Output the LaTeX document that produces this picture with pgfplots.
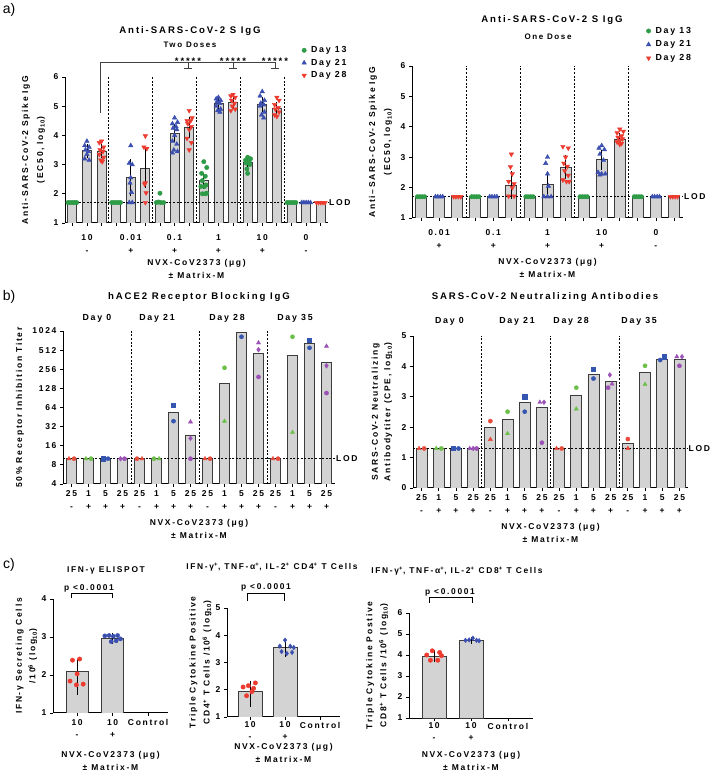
\documentclass[border=0pt]{standalone}
\usepackage{fontspec}
\setmainfont{Liberation Sans}[UprightFont={* Bold}, LetterSpace=20]
\newfontfamily\regfont{Liberation Sans}
\usepackage{pgfplots}
\pgfplotsset{compat=1.18}
\usetikzlibrary{plotmarks}
\definecolor{barfill}{HTML}{D3D3D3}
\definecolor{baredge}{HTML}{3C3C3C}
\definecolor{agreen}{HTML}{2E9B47}
\definecolor{ablue}{HTML}{3A4FB0}
\definecolor{ared}{HTML}{EE3B2F}
\definecolor{bred}{HTML}{E84B3C}
\definecolor{bgreen}{HTML}{6CC04A}
\definecolor{bblue}{HTML}{3556B0}
\definecolor{bpurple}{HTML}{9B51B5}
\newcommand{\fE}{\fontsize{8.5}{13}\selectfont}
\newcommand{\fD}{\fontsize{8.8}{10}\selectfont}
\newcommand{\fT}{\fontsize{9.6}{11}\selectfont}
\newcommand{\fC}{\fontsize{8.4}{10}\selectfont}
\tikzset{sepline/.style={black, line width=0.7pt, dash pattern=on 2pt off 1.6pt}}
\pgfplotsset{
 gp/.style={
  scale only axis, anchor=south west,
  axis x line*=bottom, axis y line*=left,
  axis line style={line width=1pt, black},
  every tick/.style={black, line width=0.8pt},
  tick align=outside, major tick length=3pt, minor tick length=3pt,
  /pgf/number format/assume math mode=true,
  tick label style={font=\fE},
  label style={font=\fE},
  xticklabel style={align=center, anchor=north},
  clip mode=individual,
 },
 barsty/.style={ybar, bar width=#1, fill=barfill, draw=baredge, line width=0.8pt, forget plot},
 errsty/.style={draw=none, mark=none, forget plot, error bars/.cd, y dir=both, y explicit,
   error bar style={draw=black, line width=0.8pt},
   error mark options={draw=black, line width=0.8pt, mark size=2.6pt}},
 pt/.style={only marks, mark size=#1},
 legend image code/.code={\draw[mark repeat=2,mark phase=2,#1] plot coordinates {(0pt,0pt)(5pt,0pt)(10pt,0pt)};},
}
\begin{document}
\begin{tikzpicture}
%================ a-left =================
\begin{axis}[gp, at={(65pt,550pt)}, width=263pt, height=146pt,
  xmin=-0.5, xmax=17.5, ymin=1, ymax=6, ytick={1,2,3,4,5,6},
  xtick={1,4,7,10,13,16}, xticklabels={{10\\-},{0.01\\+},{0.1\\+},{1\\+},{10\\+},{0\\-}},
  minor xtick={0,...,17}, xticklabel style={yshift=-5.5pt},
  xlabel={NVX-CoV2373 (μg)\\± Matrix-M}, xlabel style={align=center, at={(axis description cs:0.5,-0.315)}, anchor=center},
  ylabel={Anti-SARS-CoV-2 Spike IgG\\(EC50, log\textsubscript{10})}, ylabel style={align=center, font=\fontsize{8.5}{15}\selectfont, at={(axis description cs:-0.12,0.5)}, anchor=center},
  legend style={draw=none, fill=none, at={(0.9,1.222)}, anchor=north west, font=\fD, row sep=1.5pt, inner sep=0pt, nodes={inner sep=1.7pt}},
  legend cell align=left]
\addplot[barsty=9pt] coordinates {(0,1.7)(1,3.48)(2,3.45)(3,1.7)(4,2.55)(5,2.88)(6,1.75)(7,4.07)(8,4.27)(9,2.47)(10,5.1)(11,5.13)(12,3.07)(13,5.07)(14,4.92)(15,1.7)(16,1.7)(17,1.7)};
\pgfplotsinvokeforeach{2.5,5.5,8.5,11.5,14.5}{\draw[sepline] (axis cs:#1,1) -- (axis cs:#1,6);}
\draw[sepline] (axis cs:-0.5,1.7) -- (axis cs:17.5,1.7);
\node[anchor=west, font=\fE, inner sep=1pt] at (axis cs:17.5,1.7) {LOD};
\addplot[errsty] coordinates {(1,3.48) += (0,0.14) -= (0,0.16) (2,3.45) += (0,0.15) -= (0,0.15) (4,2.55) += (0,0.55) -= (0,0.55) (5,2.88) += (0,0.62) -= (0,0.58) (7,4.07) += (0,0.23) -= (0,0.22) (8,4.27) += (0,0.28) -= (0,0.27) (9,2.47) += (0,0.15) -= (0,0.22) (10,5.1) += (0,0.15) -= (0,0.15) (11,5.13) += (0,0.17) -= (0,0.15) (12,3.07) += (0,0.13) -= (0,0.12) (13,5.07) += (0,0.16) -= (0,0.17) (14,4.92) += (0,0.13) -= (0,0.12)};
\addplot[pt=2.2pt, mark=*, agreen] coordinates {(-0.3,1.7)(-0.15,1.7)(0,1.7)(0.15,1.7)(0.3,1.7)(2.7,1.7)(2.85,1.7)(3,1.7)(3.15,1.7)(3.3,1.7)(5.75,1.7)(5.9,1.72)(6.05,1.7)(6.25,1.7)(6,2.02)(9,3.1)(9.2,2.9)(8.85,2.7)(9.1,2.6)(8.9,2.45)(9.15,2.3)(8.8,2.25)(9.05,2.25)(8.9,2.0)(9.1,2.0)(9.2,2.02)(12,3.25)(12.2,3.2)(11.85,3.15)(12.1,3.1)(11.9,3.05)(12.15,3.0)(11.95,2.85)(12,2.7)(14.7,1.7)(14.85,1.7)(15,1.7)(15.15,1.7)(15.3,1.7)};
\addlegendentry{\hspace{3pt}Day 13}
\addplot[pt=2.6pt, mark=triangle*, ablue] coordinates {(1,3.8)(0.85,3.65)(1.15,3.6)(0.9,3.5)(1.1,3.45)(1,3.35)(0.85,3.2)(1.15,3.15)(4,3.65)(3.9,3.05)(4.1,3.0)(4,2.55)(3.95,2.37)(4.05,2.05)(3.9,1.7)(4.1,1.7)(7,4.6)(7.2,4.45)(6.85,4.4)(7.1,4.3)(6.9,4.25)(7.15,4.2)(7,4.0)(6.85,3.8)(7.15,3.7)(6.95,3.5)(7.2,3.45)(6.85,3.4)(10,5.3)(9.85,5.25)(10.15,5.2)(9.9,5.15)(10.1,5.1)(9.85,5.0)(10.15,4.9)(9.95,4.85)(10.1,4.8)(13,5.5)(12.85,5.35)(13.15,5.2)(12.9,5.1)(13.1,5.05)(12.85,5.0)(13.15,4.8)(12.95,4.7)(13.1,4.6)(15.7,1.7)(15.85,1.7)(16,1.7)(16.15,1.7)(16.3,1.7)};
\addlegendentry{\hspace{3pt}Day 21}
\addplot[pt=2.6pt, mark=triangle*, mark options={rotate=180}, ared] coordinates {(2,3.8)(1.85,3.75)(2.15,3.6)(1.9,3.5)(2.1,3.45)(1.85,3.35)(2.15,3.25)(1.95,3.15)(2.05,3.1)(5,3.98)(4.9,3.6)(5.1,3.55)(5,2.37)(4.95,2.33)(5.05,2.03)(5,1.7)(8,4.85)(8.2,4.6)(7.85,4.5)(8.1,4.5)(7.9,4.4)(8.15,4.3)(8,4.2)(7.85,3.9)(8.15,3.75)(8,3.5)(11,5.4)(10.85,5.35)(11.15,5.3)(10.9,5.2)(11.1,5.1)(10.95,5.0)(11.15,4.9)(10.85,4.85)(14,5.3)(14.15,5.2)(13.85,5.05)(14.1,4.95)(13.9,4.9)(14.15,4.8)(13.85,4.7)(14,4.65)(16.7,1.7)(16.85,1.7)(17,1.7)(17.15,1.7)(17.3,1.7)};
\addlegendentry{\hspace{3pt}Day 28}
\end{axis}
%================ a-right =================
\begin{axis}[gp, at={(412pt,555pt)}, width=271pt, height=152pt,
  xmin=-0.5, xmax=14.5, ymin=1, ymax=6, ytick={1,2,3,4,5,6},
  xtick={1,4,7,10,13}, xticklabels={{0.01\\+},{0.1\\+},{1\\+},{10\\+},{0\\-}},
  minor xtick={0,...,14}, xticklabel style={yshift=-5.5pt},
  xlabel={NVX-CoV2373 (μg)\\± Matrix-M}, xlabel style={align=center, at={(axis description cs:0.5,-0.332)}, anchor=center},
  ylabel={Anti--SARS-CoV-2 Spike IgG\\(EC50, log\textsubscript{10})}, ylabel style={align=center, font=\fontsize{8.5}{15}\selectfont, at={(axis description cs:-0.116,0.5)}, anchor=center},
  legend style={draw=none, fill=none, at={(0.864,1.268)}, anchor=north west, font=\fD, row sep=2.5pt, inner sep=0pt, nodes={inner sep=1.7pt}},
  legend cell align=left]
\addplot[barsty=11pt] coordinates {(0,1.7)(1,1.7)(2,1.7)(3,1.7)(4,1.7)(5,2.08)(6,1.7)(7,2.1)(8,2.68)(9,1.7)(10,2.92)(11,3.58)(12,1.7)(13,1.7)(14,1.7)};
\pgfplotsinvokeforeach{2.5,5.5,8.5,11.5}{\draw[sepline] (axis cs:#1,1) -- (axis cs:#1,6);}
\draw[sepline] (axis cs:-0.5,1.7) -- (axis cs:14.5,1.7);
\node[anchor=west, font=\fE, inner sep=1pt] at (axis cs:14.5,1.7) {LOD};
\addplot[errsty] coordinates {(5,2.08) += (0,0.37) -= (0,0.36) (7,2.1) += (0,0.32) -= (0,0.35) (8,2.68) += (0,0.32) -= (0,0.3) (10,2.92) += (0,0.23) -= (0,0.24) (11,3.58) += (0,0.12) -= (0,0.1)};
\addplot[pt=2.2pt, mark=*, agreen] coordinates {(-0.2,1.7)(-0.07,1.7)(0.07,1.7)(0.2,1.7)(2.8,1.7)(2.93,1.7)(3.07,1.7)(3.2,1.7)(5.8,1.7)(5.93,1.7)(6.07,1.7)(6.2,1.7)(8.8,1.7)(8.93,1.7)(9.07,1.7)(9.2,1.7)(11.8,1.7)(11.93,1.7)(12.07,1.7)(12.2,1.7)};
\addlegendentry{\hspace{3pt}Day 13}
\addplot[pt=2.6pt, mark=triangle*, ablue] coordinates {(0.8,1.7)(0.93,1.7)(1.07,1.7)(1.2,1.7)(3.8,1.7)(3.93,1.7)(4.07,1.7)(4.2,1.7)(7,3.0)(6.9,2.8)(7,2.45)(7.05,2.05)(6.8,1.7)(7,1.7)(7.2,1.7)(10,3.38)(9.85,3.3)(10.15,3.25)(9.9,3.1)(10.1,2.9)(9.8,2.5)(10,2.45)(10.2,2.45)(9.9,2.42)(12.8,1.7)(12.93,1.7)(13.07,1.7)(13.2,1.7)};
\addlegendentry{\hspace{3pt}Day 21}
\addplot[pt=2.6pt, mark=triangle*, mark options={rotate=180}, ared] coordinates {(1.8,1.7)(1.93,1.7)(2.07,1.7)(2.2,1.7)(5,3.1)(4.95,2.68)(5.05,2.45)(4.85,2.2)(5.15,2.12)(5.05,2.0)(4.85,1.72)(5.15,1.72)(7.85,3.35)(8.15,3.3)(8,3.0)(7.9,2.8)(8.1,2.7)(7.95,2.55)(8.15,2.4)(7.85,2.25)(8.05,2.2)(8.2,2.2)(11,3.92)(11.2,3.85)(10.85,3.8)(11.1,3.7)(10.9,3.65)(11.15,3.6)(11,3.55)(10.85,3.5)(11.1,3.45)(11,3.42)(13.8,1.7)(13.93,1.7)(14.07,1.7)(14.2,1.7)};
\addlegendentry{\hspace{3pt}Day 28}
\end{axis}
%================ b-left =================
\begin{axis}[gp, at={(63pt,289pt)}, width=272pt, height=153pt,
  ymode=log, log basis y=2, ymin=4, ymax=1024,
  ytick={4,8,16,32,64,128,256,512,1024}, yticklabels={4,8,16,32,64,128,256,512,1024},
  xmin=-0.5, xmax=15.5, xtick={0,...,15},
  xticklabels={{25\\-},{1\\+},{5\\+},{25\\+},{25\\-},{1\\+},{5\\+},{25\\+},{25\\-},{1\\+},{5\\+},{25\\+},{25\\-},{1\\+},{5\\+},{25\\+}},
  xticklabel style={yshift=-0.5pt},
  xlabel={NVX-CoV2373 (μg)\\± Matrix-M}, xlabel style={align=center, at={(axis description cs:0.5,-0.291)}, anchor=center},
  ylabel={50\% Receptor Inhibition Titer}, ylabel style={align=center, at={(axis description cs:-0.158,0.5)}, anchor=center}]
\addplot[barsty=10.5pt] coordinates {(0,10)(1,10)(2,10)(3,10)(4,10)(5,10)(6,54)(7,23)(8,10)(9,155)(10,965)(11,460)(12,10)(13,428)(14,650)(15,330)};
\pgfplotsinvokeforeach{3.5,7.5,11.5}{\draw[sepline] (axis cs:#1,4) -- (axis cs:#1,1024);}
\draw[sepline] (axis cs:-0.5,10) -- (axis cs:15.5,10);
\node[anchor=west, font=\fE, inner sep=1pt] at (axis cs:15.5,10) {LOD};
\node[font=\fD] at (axis cs:1.5,1024) [yshift=13pt] {Day 0};
\node[font=\fD] at (axis cs:5.03,1024) [yshift=13pt] {Day 21};
\node[font=\fD] at (axis cs:9.15,1024) [yshift=13pt] {Day 28};
\node[font=\fD] at (axis cs:13.15,1024) [yshift=13pt] {Day 35};
\addplot[pt=2.4pt, mark=triangle*, bred] coordinates {(-0.15,10)(4.15,10)(7.85,10)(11.85,10)};
\addplot[pt=2.1pt, mark=*, bred] coordinates {(0.15,10)(3.85,10)(8.15,10)(12.15,10)};
\addplot[pt=2.4pt, mark=triangle*, bgreen] coordinates {(0.85,10)(5.15,10)(9,39)(13,26)};
\addplot[pt=2.1pt, mark=*, bgreen] coordinates {(1.15,10)(4.85,10)(9,270)(13,830)};
\addplot[pt=2.1pt, mark=square*, bblue] coordinates {(1.85,10)(6,70)(10,1100)(14,744)};
\addplot[pt=2.1pt, mark=*, bblue] coordinates {(2.15,10)(6,39)(10,830)(14,556)};
\addplot[pt=2.4pt, mark=triangle*, bpurple] coordinates {(7,38)(11,667)(15,590)};
\addplot[pt=2.4pt, mark=diamond*, bpurple] coordinates {(2.88,10)(7,21)(11,520)(15,290)};
\addplot[pt=2.1pt, mark=*, bpurple] coordinates {(3.12,10)(7,10)(11,194)(15,108)};
\end{axis}
%================ b-right =================
\begin{axis}[gp, at={(413pt,285pt)}, width=275pt, height=152pt,
  ymin=0, ymax=5, ytick={0,1,2,3,4,5},
  xmin=-0.5, xmax=15.5, xtick={0,...,15},
  xticklabels={{25\\-},{1\\+},{5\\+},{25\\+},{25\\-},{1\\+},{5\\+},{25\\+},{25\\-},{1\\+},{5\\+},{25\\+},{25\\-},{1\\+},{5\\+},{25\\+}},
  xticklabel style={yshift=-0.5pt},
  xlabel={NVX-CoV2373 (μg)\\± Matrix-M}, xlabel style={align=center, at={(axis description cs:0.5,-0.299)}, anchor=center},
  ylabel={SARS-CoV-2 Neutralizing\\Antibodytiter (CPE, log\textsubscript{10})}, ylabel style={align=center, font=\fontsize{8.5}{12.5}\selectfont, at={(axis description cs:-0.113,0.5)}, anchor=center}]
\addplot[barsty=11pt] coordinates {(0,1.3)(1,1.3)(2,1.3)(3,1.3)(4,1.98)(5,2.26)(6,2.81)(7,2.64)(8,1.3)(9,3.06)(10,3.75)(11,3.5)(12,1.47)(13,3.8)(14,4.24)(15,4.22)};
\pgfplotsinvokeforeach{3.5,7.5,11.5}{\draw[sepline] (axis cs:#1,0) -- (axis cs:#1,5);}
\draw[sepline] (axis cs:-0.5,1.3) -- (axis cs:15.5,1.3);
\node[anchor=west, font=\fE, inner sep=0.5pt] at (axis cs:15.5,1.3) {LOD};
\node[font=\fD] at (axis cs:1.62,5) [yshift=15pt] {Day 0};
\node[font=\fD] at (axis cs:5.55,5) [yshift=15pt] {Day 21};
\node[font=\fD] at (axis cs:8.7,5) [yshift=15pt] {Day 28};
\node[font=\fD] at (axis cs:12.66,5) [yshift=15pt] {Day 35};
\addplot[pt=2.4pt, mark=triangle*, bred] coordinates {(-0.15,1.3)(4,1.6)(7.85,1.3)(12,1.3)};
\addplot[pt=2.1pt, mark=*, bred] coordinates {(0.15,1.3)(4,2.2)(8.15,1.3)(12,1.61)};
\addplot[pt=2.4pt, mark=triangle*, bgreen] coordinates {(0.85,1.3)(5,1.79)(9,2.6)(13,3.41)};
\addplot[pt=2.1pt, mark=*, bgreen] coordinates {(1.15,1.3)(5,2.51)(9,3.3)(13,4.02)};
\addplot[pt=2.1pt, mark=square*, bblue] coordinates {(1.85,1.3)(6,3.0)(10,3.9)(14.12,4.32)};
\addplot[pt=2.1pt, mark=*, bblue] coordinates {(2.15,1.3)(6,2.51)(10,3.6)(13.88,4.21)};
\addplot[pt=2.4pt, mark=triangle*, bpurple] coordinates {(2.8,1.3)(6.88,2.82)(11.08,3.42)(14.85,4.32)};
\addplot[pt=2.4pt, mark=diamond*, bpurple] coordinates {(3.0,1.3)(7.12,2.82)(10.95,3.72)(15.15,4.32)};
\addplot[pt=2.1pt, mark=*, bpurple] coordinates {(3.2,1.3)(7,1.49)(10.85,3.3)(15,4.02)};
\end{axis}
%================ c1 =================
\begin{axis}[gp, at={(53pt,60pt)}, width=115pt, height=114pt,
  xmin=-0.68, xmax=2.56, ymin=1, ymax=4, ytick={1,2,3,4},
  xtick={0,1,2}, xticklabels={{10\\-},{10\\+},{Control}}, xticklabel style={yshift=0pt, font=\fontsize{8.5}{12.5}\selectfont},
  xlabel={NVX-CoV2373 (μg)\\± Matrix-M}, xlabel style={align=center, at={(axis description cs:0.5,-0.417)}, anchor=center},
  ylabel={IFN-γ Secreting Cells\\/10\textsuperscript{6} (log\textsubscript{10})}, ylabel style={align=center, font=\fontsize{8.5}{13.5}\selectfont, at={(axis description cs:-0.23,0.5)}, anchor=center}]
\addplot[barsty=22pt] coordinates {(0,2.1)(1,2.97)};
\addplot[errsty] coordinates {(0,2.1) += (0,0.25) -= (0,0.55) (1,2.97) += (0,0.08) -= (0,0.08)};
\addplot[pt=2.2pt, mark=*, ared] coordinates {(-0.13,2.39)(0.07,2.42)(0,2.03)(-0.2,1.84)(-0.02,1.74)(0.17,1.76)};
\addplot[pt=2.1pt, mark=*, ablue] coordinates {(0.78,3.03)(0.9,3.04)(1.02,3.02)(1.14,3.04)(1.22,2.95)(0.96,2.88)(1.1,2.9)};
\end{axis}
%================ c2 =================
\begin{axis}[gp, at={(227pt,56pt)}, width=113pt, height=109pt,
  xmin=-0.66, xmax=2.57, ymin=1, ymax=5, ytick={1,2,3,4,5},
  xtick={0,1,2}, xticklabels={{10\\-},{10\\+},{Control}}, xticklabel style={yshift=1.5pt, font=\fontsize{8.5}{11.5}\selectfont},
  xlabel={NVX-CoV2373 (μg)\\± Matrix-M}, xlabel style={align=center, font=\fontsize{8.5}{12.5}\selectfont, at={(axis description cs:0.5,-0.33)}, anchor=center},
  ylabel={Triple Cytokine Positive\\CD4\textsuperscript{+} T Cells /10\textsuperscript{6} (log\textsubscript{10})}, ylabel style={align=center, font=\fontsize{8.5}{14}\selectfont, at={(axis description cs:-0.235,0.5)}, anchor=center}]
\addplot[barsty=24pt] coordinates {(0,1.95)(1,3.55)};
\addplot[errsty] coordinates {(0,1.95) += (0,0.27) -= (0,0.47) (1,3.55) += (0,0.18) -= (0,0.25)};
\addplot[pt=2.2pt, mark=*, ared] coordinates {(-0.2,2.1)(-0.05,2.15)(0.15,2.25)(0.05,1.93)(-0.1,1.78)(0.1,2.05)};
\addplot[pt=2.3pt, mark=diamond*, ablue] coordinates {(1,3.82)(0.85,3.6)(1.15,3.6)(1.25,3.55)(1.2,3.37)(1.05,3.33)(0.9,3.4)};
\end{axis}
%================ c3 =================
\begin{axis}[gp, at={(409pt,55pt)}, width=124pt, height=105pt,
  xmin=-0.68, xmax=2.68, ymin=1, ymax=6, ytick={1,2,3,4,5,6},
  xtick={0,1,2}, xticklabels={{10\\-},{10\\+},{Control}}, xticklabel style={yshift=1.5pt, font=\fontsize{8.5}{11.5}\selectfont},
  xlabel={NVX-CoV2373 (μg)\\± Matrix-M}, xlabel style={align=center, font=\fontsize{8.5}{12.5}\selectfont, at={(axis description cs:0.5,-0.41)}, anchor=center},
  ylabel={Triple Cytokine Postive\\CD8\textsuperscript{+} T Cells /10\textsuperscript{6} (log\textsubscript{10})}, ylabel style={align=center, font=\fontsize{8.5}{14}\selectfont, at={(axis description cs:-0.257,0.5)}, anchor=center}]
\addplot[barsty=24pt] coordinates {(0,3.95)(1,4.7)};
\addplot[errsty] coordinates {(0,3.95) += (0,0.18) -= (0,0.18) (1,4.7) += (0,0.05) -= (0,0.05)};
\addplot[pt=2.2pt, mark=*, ared] coordinates {(-0.05,4.2)(0.15,4.12)(-0.2,4.0)(0.2,3.97)(-0.1,3.75)(0.1,3.75)};
\addplot[pt=2.3pt, mark=diamond*, ablue] coordinates {(0.85,4.7)(0.95,4.72)(1.05,4.8)(1.15,4.7)(1.22,4.68)};
\end{axis}
%================ annotations =================
\node[font=\regfont\fontsize{14}{14}\selectfont] at (9pt,763pt) {a)};
\node[font=\regfont\fontsize{14}{14}\selectfont] at (9pt,476pt) {b)};
\node[font=\regfont\fontsize{14}{14}\selectfont] at (9pt,208pt) {c)};
\node[font=\fT] at (190pt,742pt) {Anti-SARS-CoV-2 S IgG};
\node[font=\fontsize{8}{9}\selectfont] at (190pt,728.5pt) {Two Doses};
\node[font=\fT] at (552pt,753pt) {Anti-SARS-CoV-2 S IgG};
\node[font=\fontsize{8}{9}\selectfont] at (548pt,736pt) {One Dose};
\node[font=\fT] at (199pt,476pt) {hACE2 Receptor Blocking IgG};
\node[font=\fT] at (545pt,476pt) {SARS-CoV-2 Neutralizing Antibodies};
\node[font=\fC] at (106pt,203pt) {IFN-γ ELISPOT};
\node[font=\fC] at (272pt,206pt) {IFN-γ\textsuperscript{+}, TNF-α\textsuperscript{+}, IL-2\textsuperscript{+} CD4\textsuperscript{+} T Cells};
\node[font=\fC] at (457pt,202pt) {IFN-γ\textsuperscript{+}, TNF-α\textsuperscript{+}, IL-2\textsuperscript{+} CD8\textsuperscript{+} T Cells};
% significance bracket (two doses)
\draw[line width=0.8pt, black!75] (100pt,660pt) -- (100pt,711pt) -- (275pt,711pt);
\foreach \xx in {188,233,275} {\draw[line width=0.8pt, black!75] (\xx pt,711pt) -- (\xx pt,705pt) (\xx pt-4pt,705pt) -- (\xx pt+4pt,705pt);}
\foreach \xx in {188,233,275} {\node[font=\fontsize{9.5}{9.5}\selectfont, anchor=base] at (\xx pt,708.5pt) {*****};}
% p-value brackets
\draw[line width=0.7pt] (71pt,175pt) -- (71pt,180pt) -- (112pt,180pt) -- (112pt,175pt);
\node[font=\fC, anchor=base] at (89pt,182.5pt) {p <0.0001};
\draw[line width=0.7pt] (247pt,172pt) -- (247pt,180pt) -- (284pt,180pt) -- (284pt,172pt);
\node[font=\fC, anchor=base] at (266pt,183pt) {p <0.0001};
\draw[line width=0.7pt] (429pt,170pt) -- (429pt,176pt) -- (472pt,176pt) -- (472pt,170pt);
\node[font=\fC, anchor=base] at (450pt,178.5pt) {p <0.0001};
\pgfresetboundingbox
\path[use as bounding box] (0pt,0pt) rectangle (710pt,773pt);
\end{tikzpicture}
\end{document}
